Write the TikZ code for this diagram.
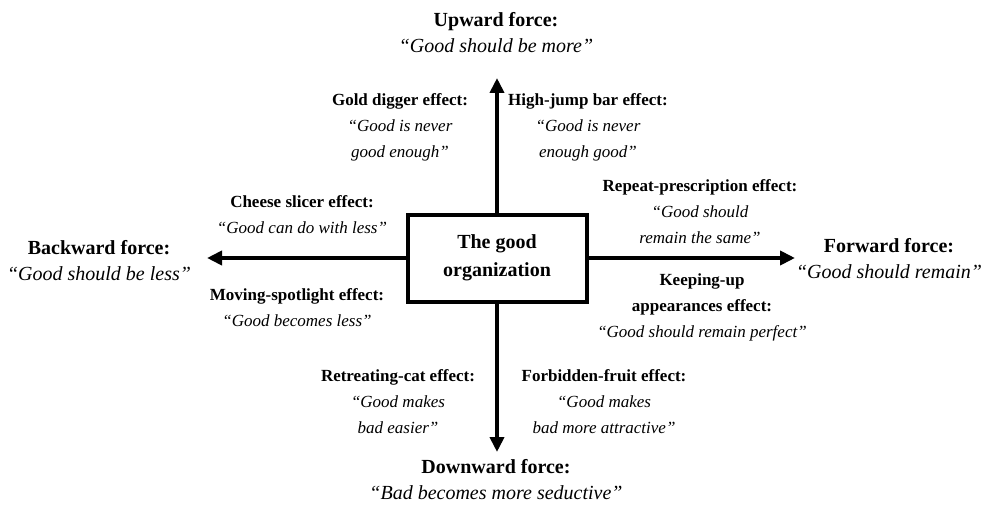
\documentclass[tikz,border=0pt]{standalone}
\usepackage{fontspec}
\setmainfont{Liberation Serif}
\usetikzlibrary{arrows.meta}

\begin{document}
\begin{tikzpicture}
  [x=1pt,y=-1pt,every node/.style={align=center,inner sep=0pt},
   force/.style={font=\fontsize{20}{26}\selectfont},
   effect/.style={font=\fontsize{17}{26}\selectfont},
   push/.style={line width=4pt,-{Triangle[length=15pt,width=14pt]}}]
  \useasboundingbox (0,0) rectangle (987,513);

  \node[draw,line width=4pt,minimum width=179pt,minimum height=87pt,
        font=\fontsize{20}{28}\selectfont\bfseries] (org) at (497,258) {The good\\organization};

  \coordinate (upTip) at (497,78);
  \coordinate (downTip) at (497,452);
  \coordinate (backTip) at (207,258);
  \coordinate (fwdTip) at (795,258);

  \foreach \from/\to in {org.north/upTip,org.south/downTip,org.west/backTip,org.east/fwdTip}
    \draw[push] (\from) -- (\to);

  \node[force] (up) at (496,33) {\textbf{Upward force:}\\\textit{``Good should be more''}};
  \node[force] (down) at (496,480) {\textbf{Downward force:}\\\textit{``Bad becomes more seductive''}};
  \node[force] (back) at (99,261) {\textbf{Backward force:}\\\textit{``Good should be less''}};
  \node[force] (fwd) at (889,259) {\textbf{Forward force:}\\\textit{``Good should remain''}};

  \node[effect] (gold) at (400,127) {\textbf{Gold digger effect:}\\\textit{``Good is never}\\\textit{good enough''}};
  \node[effect] (jump) at (588,127) {\textbf{High-jump bar effect:}\\\textit{``Good is never}\\\textit{enough good''}};
  \node[effect] (cheese) at (302,215) {\textbf{Cheese slicer effect:}\\\textit{``Good can do with less''}};
  \node[effect] (spot) at (297,308) {\textbf{Moving-spotlight effect:}\\\textit{``Good becomes less''}};
  \node[effect] (repeat) at (700,212) {\textbf{Repeat-prescription effect:}\\\textit{``Good should}\\\textit{remain the same''}};
  \node[effect] (keep) at (702,307) {\textbf{Keeping-up}\\\textbf{appearances effect:}\\\textit{``Good should remain perfect''}};
  \node[effect] (cat) at (398,402) {\textbf{Retreating-cat effect:}\\\textit{``Good makes}\\\textit{bad easier''}};
  \node[effect] (fruit) at (604,402) {\textbf{Forbidden-fruit effect:}\\\textit{``Good makes}\\\textit{bad more attractive''}};
\end{tikzpicture}
\end{document}
